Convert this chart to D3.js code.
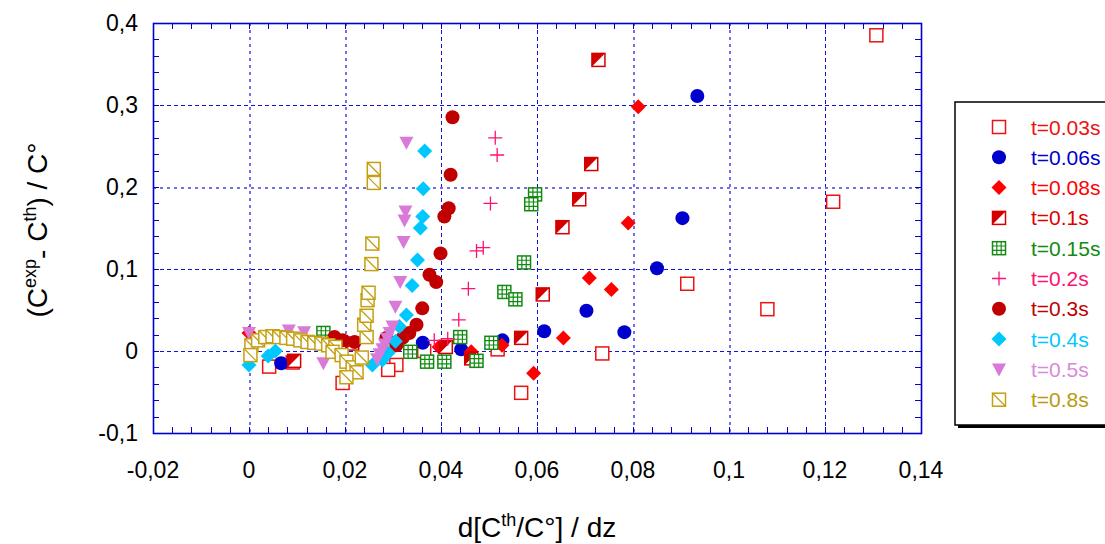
<!DOCTYPE html>
<html>
<head>
<meta charset="utf-8">
<script src="https://cdn.jsdelivr.net/npm/d3@7"></script>
<style>
  body { margin: 0; background: #fff; }
  svg text { font-family: Arial, "Liberation Sans", sans-serif; }
</style>
</head>
<body>
<svg id="chart" width="1105" height="544"></svg>
<script>
// tick values
const xTicks = [-0.02, 0, 0.02, 0.04, 0.06, 0.08, 0.1, 0.12, 0.14];
const yTicks = [-0.1, 0, 0.1, 0.2, 0.3, 0.4];
const seriesNames = ["t=0.03s", "t=0.06s", "t=0.08s", "t=0.1s", "t=0.15s",
  "t=0.2s", "t=0.3s", "t=0.4s", "t=0.5s", "t=0.8s"];

// series values [d(Cth/C°)/dz, (Cexp-Cth)/C°]
const t003 = [[0.1307, 0.385], [0.1217, 0.182], [0.108, 0.051], [0.0913, 0.082], [0.0736, -0.003],
  [0.0567, -0.051], [0.0518, 0.002], [0.0365, 0.0], [0.0307, -0.017], [0.029, -0.023],
  [0.0195, -0.039], [0.0091, -0.014], [0.0042, -0.019]];
const t006 = [[0.0934, 0.311], [0.0903, 0.162], [0.085, 0.101], [0.0703, 0.049], [0.0782, 0.023],
  [0.0615, 0.024], [0.0528, 0.013], [0.0442, 0.002], [0.0362, 0.01], [0.0067, -0.015]];
const t008 = [[0.0811, 0.298], [0.079, 0.156], [0.0709, 0.089], [0.0755, 0.075], [0.0655, 0.016],
  [0.0593, -0.027], [0.0527, 0.007], [0.0463, -0.001], [0.0396, 0.005], [0.0205, 0.011], [0.0, 0.022]];
const t01 = [[0.0728, 0.355], [0.0713, 0.228], [0.0688, 0.185], [0.0653, 0.151], [0.0612, 0.069],
  [0.0567, 0.016], [0.0463, -0.009], [0.041, 0.005], [0.0215, 0.009], [0.0094, -0.012]];
const t015 = [[0.0596, 0.191], [0.0588, 0.179], [0.0573, 0.108], [0.0532, 0.072], [0.0555, 0.063],
  [0.0505, 0.01], [0.044, 0.017], [0.0474, -0.012], [0.0407, -0.013], [0.0371, -0.013],
  [0.0336, -0.001], [0.0155, 0.022]];
const t02 = [[0.0513, 0.26], [0.0517, 0.239], [0.0503, 0.18], [0.0488, 0.126], [0.0474, 0.122],
  [0.0457, 0.076], [0.0437, 0.038], [0.0414, 0.015], [0.0386, 0.013]];
const t03 = [[0.0424, 0.285], [0.042, 0.215], [0.0416, 0.174], [0.0407, 0.164], [0.0399, 0.119],
  [0.0376, 0.093], [0.039, 0.084], [0.0361, 0.052], [0.0349, 0.032], [0.0334, 0.022],
  [0.032, 0.016], [0.0307, 0.007], [0.0286, 0.016], [0.022, 0.011], [0.0195, 0.013], [0.0178, 0.017]];
const t04 = [[0.0366, 0.244], [0.0363, 0.198], [0.0362, 0.164], [0.0357, 0.15], [0.0351, 0.111],
  [0.034, 0.08], [0.0328, 0.044], [0.0313, 0.03], [0.0305, 0.012], [0.029, -0.002],
  [0.0278, -0.011], [0.0257, -0.017], [0.0055, 0.0], [0.004, -0.006], [0.0, -0.017]];
const t05 = [[0.0328, 0.254], [0.0326, 0.17], [0.0324, 0.159], [0.0322, 0.133], [0.0315, 0.084],
  [0.0305, 0.054], [0.0299, 0.03], [0.0293, 0.022], [0.0288, 0.015], [0.0283, 0.008],
  [0.0278, 0.002], [0.0272, -0.004], [0.0267, -0.01], [0.0155, -0.015], [0.0115, 0.023],
  [0.0083, 0.025], [0.0, 0.022]];
const t08 = [[0.0005, 0.007], [0.0019, 0.013], [0.0034, 0.017], [0.0049, 0.018], [0.0063, 0.017],
  [0.0078, 0.016], [0.0092, 0.015], [0.0107, 0.013], [0.0122, 0.011], [0.0136, 0.01],
  [0.0151, 0.009], [0.0165, 0.007], [0.018, 0.005], [0.0003, -0.005], [0.0174, -0.001],
  [0.0193, -0.005], [0.0203, -0.013], [0.0216, -0.02], [0.0224, -0.026], [0.0203, -0.032],
  [0.0235, -0.008], [0.0245, 0.017], [0.024, 0.032], [0.0245, 0.043], [0.0247, 0.062],
  [0.0249, 0.071], [0.0255, 0.106], [0.0257, 0.131], [0.026, 0.205], [0.026, 0.222]];

const seriesData = [t003, t006, t008, t01, t015, t02, t03, t04, t05, t08];
const seriesShapes = ["square", "circle", "diamond", "half", "grid", "plus", "circle", "diamond", "triangle", "diag"];
const seriesColors = ["#ee1111", "#0000cc", "#ff0000", "#d40000", "#128a12", "#ff1172",
  "#c00000", "#00c8ff", "#d97ad9", "#c4a010"];
const labelColors = ["#ee1111", "#0000cc", "#ff0000", "#dd0000", "#128a12", "#ff1172",
  "#c00000", "#00c8ff", "#d98ad9", "#b89a10"];

const PLOT = { left: 153, right: 921, top: 23, bottom: 433 };
const AXIS_COLOR = "#0000d0";
const GRID_DARK = "#1010e0";
const GRID_LIGHT = "#7070f0";

const svg = d3.select("#chart");

const x = d3.scaleLinear().domain([-0.02, 0.14]).range([PLOT.left, PLOT.right]);
const y = d3.scaleLinear().domain([-0.1, 0.4]).range([PLOT.bottom, PLOT.top]);
// comma decimals, plain hyphen for negatives
const fmt = (v) => (Math.abs(v) < 1e-9 ? "0" : String(+v.toFixed(2)).replace(".", ","));
const px = (v) => Math.round(v) + 0.5;

// grid lines (some render lighter, as in the original)
const lightX = [0, 0.02, 0.08, 0.1];
const lightY = [0.2];
const isLight = (list, d) => list.some((v) => Math.abs(v - d) < 1e-9);
const grid = svg.append("g").attr("shape-rendering", "crispEdges");
grid.selectAll("line.gx")
  .data(xTicks.slice(1, -1))
  .enter()
  .append("line")
  .attr("x1", (d) => px(x(d))).attr("x2", (d) => px(x(d)))
  .attr("y1", PLOT.top).attr("y2", PLOT.bottom)
  .attr("stroke", (d) => (isLight(lightX, d) ? GRID_LIGHT : GRID_DARK))
  .attr("stroke-width", (d) => (isLight(lightX, d) ? 2 : 1))
  .attr("stroke-dasharray", (d) => (isLight(lightX, d) ? "3,4" : "4,3"));
grid.selectAll("line.gy")
  .data(yTicks.slice(1, -1))
  .enter()
  .append("line")
  .attr("y1", (d) => px(y(d))).attr("y2", (d) => px(y(d)))
  .attr("x1", PLOT.left).attr("x2", PLOT.right)
  .attr("stroke", (d) => (isLight(lightY, d) ? GRID_LIGHT : GRID_DARK))
  .attr("stroke-width", (d) => (isLight(lightY, d) ? 2 : 1))
  .attr("stroke-dasharray", (d) => (isLight(lightY, d) ? "3,4" : "4,3"));

// inward ticks on all four sides
const xMinor = d3.range(-0.02, 0.1401, 0.004);
const yMinor = d3.range(-0.1, 0.4001, 0.02);
const ticks = svg.append("g").attr("stroke", AXIS_COLOR).attr("stroke-width", 1)
  .attr("shape-rendering", "crispEdges");
ticks.selectAll("line.xb").data(xMinor).enter().append("line")
  .attr("x1", (d) => px(x(d))).attr("x2", (d) => px(x(d)))
  .attr("y1", PLOT.bottom).attr("y2", PLOT.bottom - 6);
ticks.selectAll("line.xt").data(xMinor).enter().append("line")
  .attr("x1", (d) => px(x(d))).attr("x2", (d) => px(x(d)))
  .attr("y1", PLOT.top).attr("y2", PLOT.top + 6);
ticks.selectAll("line.yl").data(yMinor).enter().append("line")
  .attr("y1", (d) => px(y(d))).attr("y2", (d) => px(y(d)))
  .attr("x1", PLOT.left).attr("x2", PLOT.left + 6);
ticks.selectAll("line.yr").data(yMinor).enter().append("line")
  .attr("y1", (d) => px(y(d))).attr("y2", (d) => px(y(d)))
  .attr("x1", PLOT.right).attr("x2", PLOT.right - 6);

svg.append("rect")
  .attr("x", PLOT.left + 0.5).attr("y", PLOT.top + 0.5)
  .attr("width", PLOT.right - PLOT.left).attr("height", PLOT.bottom - PLOT.top)
  .attr("fill", "none").attr("stroke", AXIS_COLOR).attr("stroke-width", 1.6);

// tick labels
svg.append("g").selectAll("text").data(xTicks).enter().append("text")
  .attr("x", (d) => x(d)).attr("y", 478)
  .attr("text-anchor", "middle").attr("font-size", 23)
  .text(fmt);
svg.append("g").selectAll("text").data(yTicks).enter().append("text")
  .attr("x", 138).attr("y", (d) => y(d) + 8)
  .attr("text-anchor", "end").attr("font-size", 23)
  .text(fmt);

// axis titles
const xTitle = svg.append("text")
  .attr("x", (PLOT.left + PLOT.right) / 2).attr("y", 537)
  .attr("text-anchor", "middle").attr("font-size", 28);
xTitle.append("tspan").text("d[C");
xTitle.append("tspan").attr("font-size", 18).attr("dy", -11).text("th");
xTitle.append("tspan").attr("dy", 11).text("/C°] / dz");

const yTitle = svg.append("text")
  .attr("transform", `translate(47,${(PLOT.top + PLOT.bottom) / 2 + 2}) rotate(-90)`)
  .attr("text-anchor", "middle").attr("font-size", 28);
yTitle.append("tspan").text("(C");
yTitle.append("tspan").attr("font-size", 18).attr("dy", -11).text("exp");
yTitle.append("tspan").attr("dy", 15).text("-");
yTitle.append("tspan").attr("dy", -4).text(" C");
yTitle.append("tspan").attr("font-size", 18).attr("dy", -11).text("th");
yTitle.append("tspan").attr("dy", 11).text(") / C°");

// markers
function drawMarker(g, shape, color) {
  const s = 6.5;
  if (shape === "circle") {
    g.append("circle").attr("r", 7).attr("fill", color);
  } else if (shape === "diamond") {
    g.append("path").attr("d", "M0,-7.5L7.5,0L0,7.5L-7.5,0Z").attr("fill", color);
  } else if (shape === "triangle") {
    g.append("path").attr("d", "M-7,-6L7,-6L0,7Z").attr("fill", color);
  } else if (shape === "plus") {
    g.append("path").attr("d", "M-7,0H7M0,-7V7").attr("stroke", color).attr("stroke-width", 1.3);
  } else {
    g.append("rect").attr("x", -s).attr("y", -s).attr("width", 2 * s).attr("height", 2 * s)
      .attr("fill", "#fff").attr("stroke", color).attr("stroke-width", 1.5);
    if (shape === "half") {
      g.append("path").attr("d", `M${-s},${-s}L${s},${-s}L${-s},${s}Z`).attr("fill", color);
    } else if (shape === "grid") {
      g.append("path")
        .attr("d", `M${-s},-2.2H${s}M${-s},2.2H${s}M-2.2,${-s}V${s}M2.2,${-s}V${s}`)
        .attr("stroke", color).attr("stroke-width", 1.2);
    } else if (shape === "diag") {
      g.append("path").attr("d", `M${-s},${-s}L${s},${s}`)
        .attr("stroke", color).attr("stroke-width", 1.3);
    }
  }
}

seriesData.forEach((pts, i) => {
  svg.append("g")
    .selectAll("g")
    .data(pts)
    .enter()
    .append("g")
    .attr("transform", (d) => `translate(${x(d[0])},${y(d[1])})`)
    .each(function () {
      drawMarker(d3.select(this), seriesShapes[i], seriesColors[i]);
    });
});

// legend
const legend = svg.append("g");
legend.append("rect").attr("x", 958).attr("y", 105).attr("width", 160).attr("height", 323)
  .attr("fill", "#000");
legend.append("rect").attr("x", 955).attr("y", 102).attr("width", 160).attr("height", 323)
  .attr("fill", "#fff").attr("stroke", "#000").attr("stroke-width", 1.5);

seriesNames.forEach((name, i) => {
  const cy = 127 + i * 30.3;
  const mg = legend.append("g").attr("transform", `translate(999,${cy})`);
  drawMarker(mg, seriesShapes[i], seriesColors[i]);
  legend.append("text")
    .attr("x", 1031).attr("y", cy + 7.5)
    .attr("font-size", 21)
    .attr("fill", labelColors[i])
    .text(name);
});
</script>
</body>
</html>
